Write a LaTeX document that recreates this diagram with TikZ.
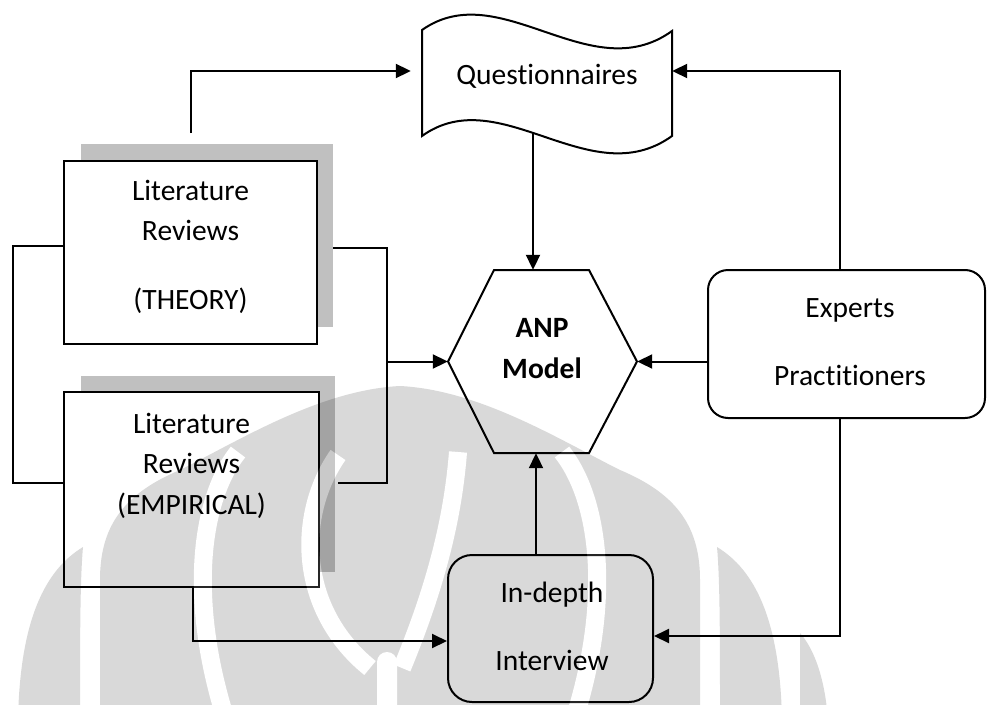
\documentclass[tikz,border=0pt]{standalone}
\usepackage{fontspec}
\setmainfont{Carlito}[Ligatures=NoCommon]
\usetikzlibrary{arrows.meta}
\definecolor{shadowgray}{HTML}{C0C0C0}
\tikzset{
  box/.style={draw, fill=white, line width=2pt, inner sep=0pt},
  dropshadow/.style={fill=shadowgray, draw=none, inner sep=0pt},
  anchorbox/.style={inner sep=0pt, draw=none},
  arr/.style={line width=2pt, -{Triangle[length=15pt,width=14pt]}},
  wire/.style={line width=2pt},
  lbl/.style={font=\fontsize{29.5}{35}\selectfont, inner sep=0pt, text height=20pt, text depth=0pt},
  boldlbl/.style={lbl, font=\fontsize{29.5}{35}\selectfont\bfseries},
  band/.style={white, line width=18pt},
}
\begin{document}
\begin{tikzpicture}[x=1pt,y=-1pt]
\useasboundingbox (0,0) rectangle (987,704);

% drop shadows behind the two literature boxes
\node[dropshadow, minimum width=252, minimum height=183] (thsh) at (207,235.5) {};
\node[dropshadow, minimum width=254, minimum height=196] (emsh) at (208,474) {};

% boxes
\node[box, minimum width=253, minimum height=183] (th) at (190.5,252.5) {};
\node[box, minimum width=255, minimum height=195] (em) at (191.5,489.5) {};
\node[box, rounded corners=20pt, minimum width=277, minimum height=148] (ex) at (846.5,344) {};
\node[box, rounded corners=24pt, minimum width=205, minimum height=147] (ind) at (550.5,628.5) {};

% punched-tape shape for the questionnaires
\node[anchorbox, minimum width=250, minimum height=124] (q) at (547,71) {};
\draw[box] (422,30) .. controls (500,-25) and (590,90) .. (672,31) -- (672,136)
  .. controls (590,195) and (500,80) .. (422,136) -- cycle;

% hexagon for the model
\node[anchorbox, minimum width=189, minimum height=183] (anp) at (542.5,361.5) {};
\draw[box] (494,270) -- (589,270) -- (637,361.5) -- (589,453) -- (494,453) -- (448,361.5) -- cycle;

% faint emblem lying over the page
\begin{scope}[transparency group, opacity=0.15]
  % central dome
  \fill (100,720) -- (100,580) .. controls (100,530) and (120,495) .. (180,470)
    .. controls (240,440) and (320,390) .. (400,386)
    .. controls (480,390) and (560,440) .. (620,470)
    .. controls (680,495) and (700,530) .. (700,580) -- (700,720) -- cycle;
  % side crescents
  \fill (717,547) .. controls (755,570) and (780,620) .. (782,720) -- (720,720)
    .. controls (720,640) and (720,580) .. (717,547) -- cycle;
  \fill (83,547) .. controls (45,570) and (20,620) .. (18,720) -- (80,720)
    .. controls (80,640) and (80,580) .. (83,547) -- cycle;
  \fill (800,633) .. controls (815,650) and (825,680) .. (828,720) -- (800,720)
    .. controls (800,690) and (800,660) .. (800,633) -- cycle;
  % white gaps inside the dome
  \draw[band] (562,452) .. controls (600,500) and (612,600) .. (574,720);
  \draw[band] (238,452) .. controls (200,500) and (188,600) .. (226,720);
  \draw[band] (338,455) .. controls (296,515) and (298,610) .. (370,668);
  \draw[band] (458,452) .. controls (452,530) and (430,600) .. (402,668);
  \draw[band, line width=20pt, line cap=round] (387,662) -- (387,720);
\end{scope}

% labels
\node[lbl] (qt) at (547,74) {Questionnaires};
\node[lbl] (th1) at (190.5,190) {Literature};
\node[lbl] (th2) at (190.5,230) {Reviews};
\node[lbl] (th3) at (190.5,299) {(THEORY)};
\node[lbl] (em1) at (191.5,423) {Literature};
\node[lbl] (em2) at (191.5,463) {Reviews};
\node[lbl] (em3) at (191.5,504) {(EMPIRICAL)};
\node[boldlbl] (anp1) at (542,327) {ANP};
\node[boldlbl] (anp2) at (542,368) {Model};
\node[lbl] (ex1) at (850,307) {Experts};
\node[lbl] (ex2) at (850,375) {Practitioners};
\node[lbl] (ind1) at (552,592) {In-depth};
\node[lbl] (ind2) at (552,660) {Interview};

% connectors
\draw[arr] ([yshift=27]th.north) |- ([xshift=-11]q.west);
\draw[arr] ([xshift=-6.5]ex.north) |- (q.east);
\draw[arr] ([xshift=-14]q.south) -- ([xshift=-14]q.south |- anp.north);
\draw[wire] ([yshift=6.5]th.west) -- ++(-50,0) |- ([yshift=6.5]em.west);
\coordinate (join) at (387,361.5);
\draw[wire] ([yshift=-12.5]thsh.east) -| (join) |- ([xshift=3,yshift=-9]emsh.east);
\draw[arr] (join) -- (anp.west);
\draw[arr] (ex.west |- anp.east) -- (anp.east);
\draw[arr] ([xshift=-14.5]ind.north) -- ([xshift=-14.5]ind.north |- anp.south);
\draw[arr] ([xshift=1.5]em.south) |- ([yshift=-12.5]ind.west);
\draw[arr] ([xshift=-6.5]ex.south) |- ([yshift=-7.5]ind.east);
\end{tikzpicture}
\end{document}
